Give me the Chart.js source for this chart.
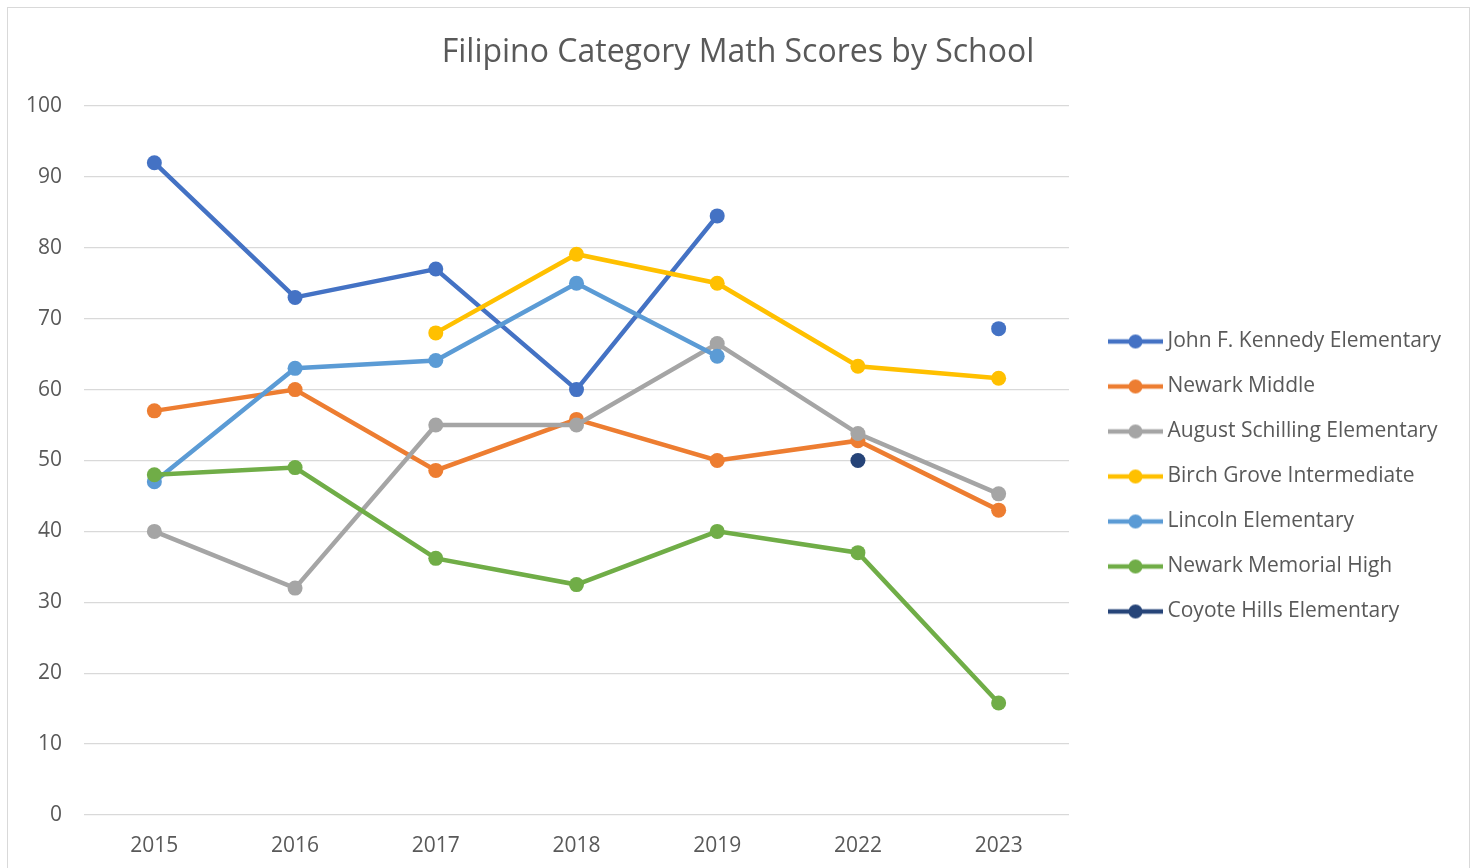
<!DOCTYPE html>
<html>
<head>
<meta charset="utf-8">
<script src="https://cdn.jsdelivr.net/npm/chart.js@4.4.0/dist/chart.umd.min.js"></script>
<style>
  html, body { margin: 0; padding: 0; background: #ffffff; overflow: hidden; }
  #wrap { position: relative; width: 1476px; height: 868px; }
  #frame { position: absolute; left: 7px; top: 7px; width: 1461px; height: 900px; border: 1px solid #D9D9D9; pointer-events: none; }
  canvas { position: absolute; left: 0; top: 0; }
</style>
</head>
<body>
<div id="wrap">
  <canvas id="c" width="1476" height="868"></canvas>
  <div id="frame"></div>
</div>
<script>
// ---- data ----
const chartTitle = 'Filipino Category Math Scores by School';
const years = ['2015', '2016', '2017', '2018', '2019', '2022', '2023'];
const seriesNames = [
  'John F. Kennedy Elementary',
  'Newark Middle',
  'August Schilling Elementary',
  'Birch Grove Intermediate',
  'Lincoln Elementary',
  'Newark Memorial High',
  'Coyote Hills Elementary'
];
const jfkElementary      = [92, 73, 77, 60, 84.5, null, 68.6];
const newarkMiddle       = [57, 60, 48.6, 55.8, 50, 52.8, 43];
const augustSchilling    = [40, 32, 55, 55, 66.5, 53.8, 45.3];
const birchGrove         = [null, null, 68, 79.1, 75, 63.3, 61.6];
const lincolnElementary  = [47, 63, 64.1, 75, 64.7, null, null];
const newarkMemorialHigh = [48, 49, 36.2, 32.5, 40, 37, 15.8];
const coyoteHills        = [null, null, null, null, null, 50, null];
const yMin = 0, yMax = 100, yStep = 10;

const seriesValues = [jfkElementary, newarkMiddle, augustSchilling, birchGrove, lincolnElementary, newarkMemorialHigh, coyoteHills];
const seriesColors = ['#4472C4', '#ED7D31', '#A5A5A5', '#FFC000', '#5B9BD5', '#70AD47', '#264478'];

const FONT = "'Open Sans', 'Noto Sans', sans-serif";
const TEXT = '#595959';

// legend marker images (line with dot)
function makeMarker(color) {
  const c = document.createElement('canvas');
  c.width = 76; c.height = 16;
  const g = c.getContext('2d');
  g.strokeStyle = color; g.lineWidth = 4.5; g.lineCap = 'butt';
  g.beginPath(); g.moveTo(21, 8); g.lineTo(76, 8); g.stroke();
  g.fillStyle = color;
  g.beginPath(); g.arc(48.5, 8, 7, 0, Math.PI * 2); g.fill();
  return c;
}
const markers = seriesColors.map(makeMarker);

const datasets = seriesNames.map((name, i) => ({
  label: name,
  data: seriesValues[i],
  borderColor: seriesColors[i],
  backgroundColor: seriesColors[i],
  pointBackgroundColor: seriesColors[i],
  pointBorderColor: seriesColors[i],
  borderWidth: 4.5,
  pointRadius: 7.5,
  pointBorderWidth: 0,
  pointHoverRadius: 7.5,
  tension: 0,
  spanGaps: false,
  order: seriesNames.length - i
}));

const layoutPlugin = {
  id: 'layoutTweaks',
  beforeUpdate(chart) {
    const lg = chart.legend;
    if (lg && !lg._fitPatched) {
      const orig = lg.fit;
      lg.fit = function () { orig.call(this); this.width = 407; };
      lg._fitPatched = true;
    }
  },
  afterLayout(chart) {
    const lg = chart.legend;
    if (lg) { lg.top += 16; lg.bottom += 16; }
  }
};

new Chart(document.getElementById('c'), {
  type: 'line',
  data: { labels: years, datasets },
  plugins: [layoutPlugin],
  options: {
    responsive: false,
    animation: false,
    events: [],
    layout: { padding: { left: 0, right: 0, top: 0, bottom: 0 } },
    plugins: {
      title: {
        display: true,
        text: chartTitle,
        color: TEXT,
        font: { family: FONT, size: 32, weight: 'normal', lineHeight: 1.2 },
        padding: { top: 34, bottom: 33.6 }
      },
      legend: {
        display: true,
        position: 'right',
        fullSize: false,
        labels: {
          color: TEXT,
          font: { family: FONT, size: 21 },
          padding: 24,
          usePointStyle: true,
          pointStyleWidth: 64,
          sort: (a, b) => a.datasetIndex - b.datasetIndex,
          generateLabels(chart) {
            const items = Chart.defaults.plugins.legend.labels.generateLabels(chart);
            items.forEach(it => { it.pointStyle = markers[it.datasetIndex]; });
            return items;
          }
        }
      },
      tooltip: { enabled: false }
    },
    scales: {
      x: {
        offset: true,
        grid: { display: false, drawTicks: false },
        border: { display: false },
        ticks: { color: TEXT, font: { family: FONT, size: 21 }, padding: 18 },
        afterFit(scale) { scale.height = 53; }
      },
      y: {
        min: yMin,
        max: yMax,
        ticks: { stepSize: yStep, color: TEXT, font: { family: FONT, size: 21 }, padding: 22 },
        grid: { color: '#D9D9D9', lineWidth: 1.3, drawTicks: false },
        border: { display: false },
        afterFit(scale) { scale.width = 84; }
      }
    }
  }
});
</script>
</body>
</html>
